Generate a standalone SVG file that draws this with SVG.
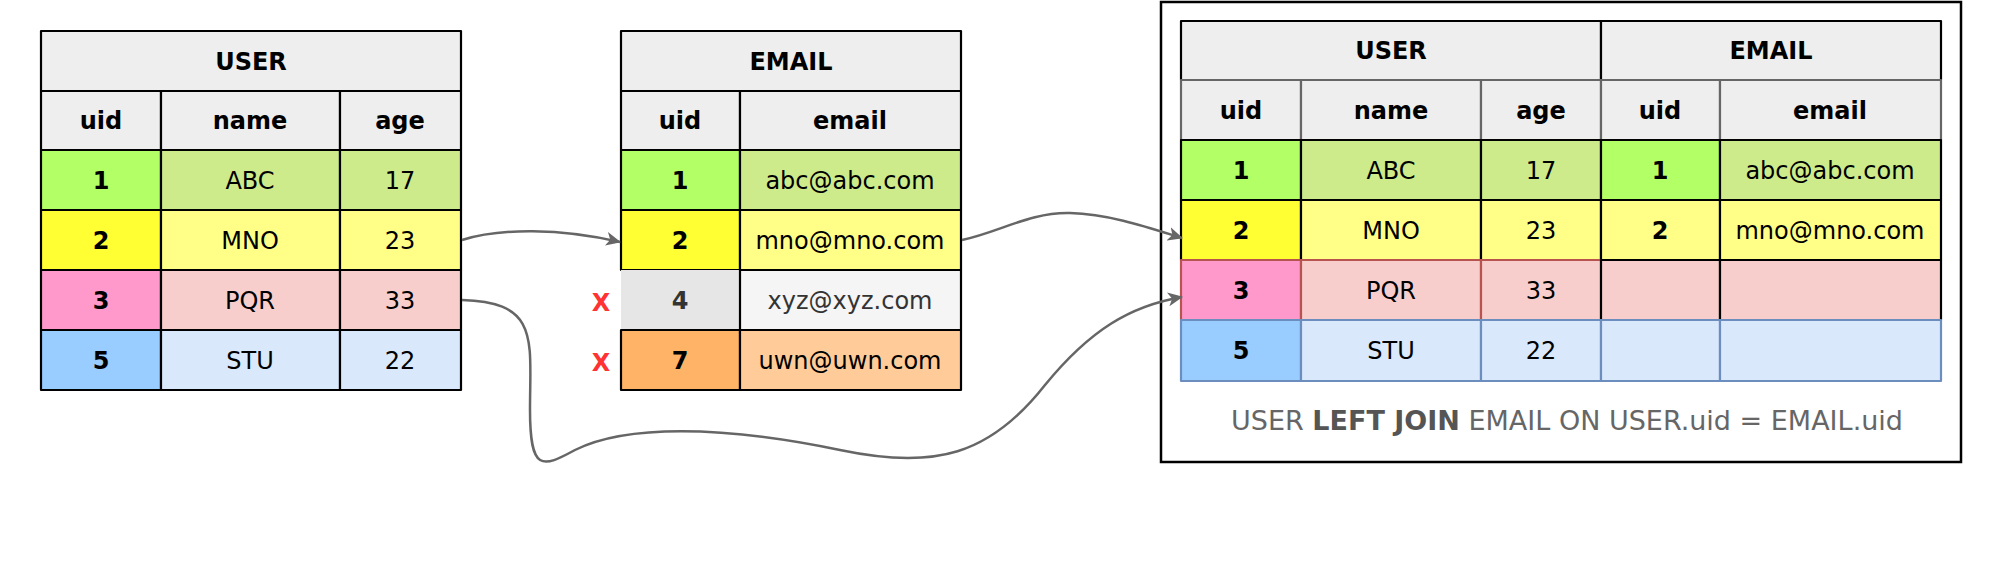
<svg xmlns="http://www.w3.org/2000/svg" width="2000" height="575" viewBox="0 0 2000 575">
<style>
  text { font-family: "DejaVu Sans", "Liberation Sans", sans-serif; font-size: 24px; fill: #000; text-anchor: middle; }
  .b { font-weight: bold; }
  .c { stroke: #000; stroke-width: 2.2; stroke-linejoin: round; }
  .hd { fill: #eeeeee; }
  .g1 { fill: #b3ff66; } .g2 { fill: #cdeb8b; }
  .y1 { fill: #ffff33; } .y2 { fill: #ffff88; }
  .p1 { fill: #ff99cc; } .p2 { fill: #f8cecc; }
  .bl1 { fill: #99ccff; } .bl2 { fill: #dae8fc; }
  .gr1 { fill: #e6e6e6; } .gr2 { fill: #f5f5f5; }
  .o1 { fill: #ffb366; } .o2 { fill: #ffcc99; }
  .red { stroke: #b85450; } .blue { stroke: #6c8ebf; } .grey { stroke: #666; }
  .x { fill: #ff3333; font-weight: bold; }
  .dk { fill: #333; }
  .cap { font-size: 27px; fill: #666; }
  .conn { fill: none; stroke: #666; stroke-width: 2.5; }
</style>
<defs>
  <marker id="arr" markerUnits="userSpaceOnUse" markerWidth="16" markerHeight="14" refX="14" refY="7" orient="auto">
    <path d="M0,0 L15,7 L0,14 L4,7 z" fill="#666"/>
  </marker>
</defs>

<g id="user-table">
  <rect class="c hd" x="41" y="31" width="420" height="60"/>
  <text class="b" x="251" y="70">USER</text>
  <rect class="c hd" x="41" y="91" width="120" height="59"/>
  <rect class="c hd" x="161" y="91" width="179" height="59"/>
  <rect class="c hd" x="340" y="91" width="121" height="59"/>
  <text class="b" x="101" y="129">uid</text>
  <text class="b" x="250" y="129">name</text>
  <text class="b" x="400" y="129">age</text>

  <rect class="c g1" x="41" y="150" width="120" height="60"/>
  <rect class="c g2" x="161" y="150" width="179" height="60"/>
  <rect class="c g2" x="340" y="150" width="121" height="60"/>
  <text class="b" x="101" y="189">1</text>
  <text x="250" y="189">ABC</text>
  <text x="400" y="189">17</text>

  <rect class="c y1" x="41" y="210" width="120" height="60"/>
  <rect class="c y2" x="161" y="210" width="179" height="60"/>
  <rect class="c y2" x="340" y="210" width="121" height="60"/>
  <text class="b" x="101" y="249">2</text>
  <text x="250" y="249">MNO</text>
  <text x="400" y="249">23</text>

  <rect class="c p1" x="41" y="270" width="120" height="60"/>
  <rect class="c p2" x="161" y="270" width="179" height="60"/>
  <rect class="c p2" x="340" y="270" width="121" height="60"/>
  <text class="b" x="101" y="309">3</text>
  <text x="250" y="309">PQR</text>
  <text x="400" y="309">33</text>

  <rect class="c bl1" x="41" y="330" width="120" height="60"/>
  <rect class="c bl2" x="161" y="330" width="179" height="60"/>
  <rect class="c bl2" x="340" y="330" width="121" height="60"/>
  <text class="b" x="101" y="369">5</text>
  <text x="250" y="369">STU</text>
  <text x="400" y="369">22</text>
</g>

<g id="email-table">
  <rect class="c hd" x="621" y="31" width="340" height="60"/>
  <text class="b" x="791" y="70">EMAIL</text>
  <rect class="c hd" x="621" y="91" width="119" height="59"/>
  <rect class="c hd" x="740" y="91" width="221" height="59"/>
  <text class="b" x="680" y="129">uid</text>
  <text class="b" x="850" y="129">email</text>

  <rect class="c g1" x="621" y="150" width="119" height="60"/>
  <rect class="c g2" x="740" y="150" width="221" height="60"/>
  <text class="b" x="680" y="189">1</text>
  <text x="850" y="189">abc@abc.com</text>

  <rect class="c y1" x="621" y="210" width="119" height="60"/>
  <rect class="c y2" x="740" y="210" width="221" height="60"/>
  <text class="b" x="680" y="249">2</text>
  <text x="850" y="249">mno@mno.com</text>

  <rect class="gr1" x="621" y="270" width="119" height="60"/>
  <rect class="c gr2" x="740" y="270" width="221" height="60"/>
  <text class="b dk" x="680" y="309">4</text>
  <text class="dk" x="850" y="309">xyz@xyz.com</text>

  <rect class="c o1" x="621" y="330" width="119" height="60"/>
  <rect class="c o2" x="740" y="330" width="221" height="60"/>
  <text class="b" x="680" y="369">7</text>
  <text x="850" y="369">uwn@uwn.com</text>
</g>

<g id="marks">
  <text class="x" x="601" y="311">X</text>
  <text class="x" x="601" y="371">X</text>
</g>

<g id="result">
  <rect x="1161" y="2" width="800" height="460" fill="none" stroke="#000" stroke-width="2.5"/>
  <rect class="c hd" x="1181" y="21" width="420" height="59"/>
  <rect class="c hd" x="1601" y="21" width="340" height="59"/>
  <text class="b" x="1391" y="59">USER</text>
  <text class="b" x="1771" y="59">EMAIL</text>

  <rect class="c hd grey" x="1181" y="80" width="120" height="60"/>
  <rect class="c hd grey" x="1301" y="80" width="180" height="60"/>
  <rect class="c hd grey" x="1481" y="80" width="120" height="60"/>
  <rect class="c hd grey" x="1601" y="80" width="119" height="60"/>
  <rect class="c hd grey" x="1720" y="80" width="221" height="60"/>
  <text class="b" x="1241" y="119">uid</text>
  <text class="b" x="1391" y="119">name</text>
  <text class="b" x="1541" y="119">age</text>
  <text class="b" x="1660" y="119">uid</text>
  <text class="b" x="1830" y="119">email</text>

  <rect class="c g1" x="1181" y="140" width="120" height="60"/>
  <rect class="c g2" x="1301" y="140" width="180" height="60"/>
  <rect class="c g2" x="1481" y="140" width="120" height="60"/>
  <rect class="c g1" x="1601" y="140" width="119" height="60"/>
  <rect class="c g2" x="1720" y="140" width="221" height="60"/>
  <text class="b" x="1241" y="179">1</text>
  <text x="1391" y="179">ABC</text>
  <text x="1541" y="179">17</text>
  <text class="b" x="1660" y="179">1</text>
  <text x="1830" y="179">abc@abc.com</text>

  <rect class="c y1" x="1181" y="200" width="120" height="60"/>
  <rect class="c y2" x="1301" y="200" width="180" height="60"/>
  <rect class="c y2" x="1481" y="200" width="120" height="60"/>
  <rect class="c y2" x="1601" y="200" width="119" height="60"/>
  <rect class="c y2" x="1720" y="200" width="221" height="60"/>
  <text class="b" x="1241" y="239">2</text>
  <text x="1391" y="239">MNO</text>
  <text x="1541" y="239">23</text>
  <text class="b" x="1660" y="239">2</text>
  <text x="1830" y="239">mno@mno.com</text>

  <rect class="c p1 red" x="1181" y="260" width="120" height="60"/>
  <rect class="c p2 red" x="1301" y="260" width="180" height="60"/>
  <rect class="c p2 red" x="1481" y="260" width="120" height="60"/>
  <rect class="c p2" x="1601" y="260" width="119" height="60"/>
  <rect class="c p2" x="1720" y="260" width="221" height="60"/>
  <text class="b" x="1241" y="299">3</text>
  <text x="1391" y="299">PQR</text>
  <text x="1541" y="299">33</text>

  <rect class="c bl1 blue" x="1181" y="320" width="120" height="61"/>
  <rect class="c bl2 blue" x="1301" y="320" width="180" height="61"/>
  <rect class="c bl2 blue" x="1481" y="320" width="120" height="61"/>
  <rect class="c bl2 blue" x="1601" y="320" width="119" height="61"/>
  <rect class="c bl2 blue" x="1720" y="320" width="221" height="61"/>
  <text class="b" x="1241" y="359">5</text>
  <text x="1391" y="359">STU</text>
  <text x="1541" y="359">22</text>

  <text class="cap" x="1567" y="430">USER <tspan class="b" fill="#555">LEFT JOIN</tspan> EMAIL ON USER.uid = EMAIL.uid</text>
</g>

<g id="connectors">
  <path class="conn" marker-end="url(#arr)" d="M 462 240 C 500 228, 560 228, 620 242"/>
  <path class="conn" marker-end="url(#arr)" d="M 962 240 C 1000 232, 1030 212, 1070 213 C 1110 214, 1150 228, 1182 238"/>
  <path class="conn" marker-end="url(#arr)" d="M 462 300 C 540 302, 530 340, 530 410 C 530 472, 542 468, 575 450 C 625 425, 720 425, 840 450 C 935 470, 990 455, 1045 385 C 1090 330, 1130 306, 1182 297"/>
</g>
</svg>
